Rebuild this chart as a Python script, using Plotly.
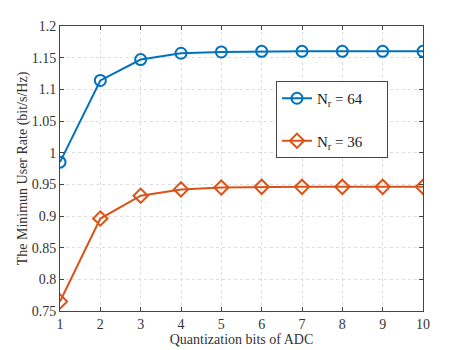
import plotly.graph_objects as go

bits = [1, 2, 3, 4, 5, 6, 7, 8, 9, 10]
rate_nr64 = [0.985, 1.114, 1.147, 1.157, 1.159, 1.160, 1.160, 1.160, 1.160, 1.160]
rate_nr36 = [0.765, 0.896, 0.932, 0.942, 0.945, 0.946, 0.946, 0.946, 0.946, 0.946]

y_ticks = [0.75, 0.8, 0.85, 0.9, 0.95, 1.0, 1.05, 1.1, 1.15, 1.2]
y_tick_labels = ["0.75", "0.8", "0.85", "0.9", "0.95", "1", "1.05", "1.1", "1.15", "1.2"]

blue = "#0072BD"
orange = "#D95319"
font = "Liberation Serif"
pad = "&nbsp;" * 5  # MATLAB legend box is wider than the text

fig = go.Figure()
fig.add_trace(go.Scatter(
    x=bits, y=rate_nr64, mode="lines+markers", name="N<sub>r</sub> = 64" + pad,
    legendgroup="a",
    line=dict(color=blue, width=2),
    marker=dict(symbol="circle-open", size=11, color=blue, line=dict(width=2)),
))
fig.add_trace(go.Scatter(
    x=bits, y=rate_nr36, mode="lines+markers", name="N<sub>r</sub> = 36" + pad,
    legendgroup="b",
    line=dict(color=orange, width=2),
    marker=dict(symbol="diamond-open", size=11, color=orange, line=dict(width=2)),
))

axis_style = dict(
    showline=True, linecolor="#444", linewidth=1, mirror="ticks",
    ticks="inside", ticklen=4, tickcolor="#444",
    showgrid=True, gridcolor="#dedede", griddash="dot", gridwidth=1,
    zeroline=False, automargin=False,
    tickfont=dict(family=font, size=14, color="#333"),
)

# the page body keeps its default 8px margin, so the figure is drawn 8px smaller
fig.update_layout(
    width=459, height=342,
    margin=dict(l=52, r=44, t=18, b=39, autoexpand=False),
    paper_bgcolor="white", plot_bgcolor="white",
    font=dict(family=font, size=14, color="#333"),
    showlegend=True,
    legend=dict(
        x=0.595, y=0.807, xanchor="left", yanchor="top",
        bordercolor="#444", borderwidth=1, bgcolor="white",
        font=dict(family=font, size=15, color="#222"),
        tracegroupgap=20,
    ),
    xaxis=dict(
        range=[1, 10], tickvals=bits,
        title=dict(text="Quantization bits of ADC", standoff=0,
                   font=dict(family=font, size=14)),
        **axis_style,
    ),
    yaxis=dict(
        range=[0.75, 1.2], tickvals=y_ticks, ticktext=y_tick_labels,
        title=dict(text="The Minimun User Rate (bit/s/Hz)", standoff=0,
                   font=dict(family=font, size=14)),
        **axis_style,
    ),
)

fig.write_html("out.html")
